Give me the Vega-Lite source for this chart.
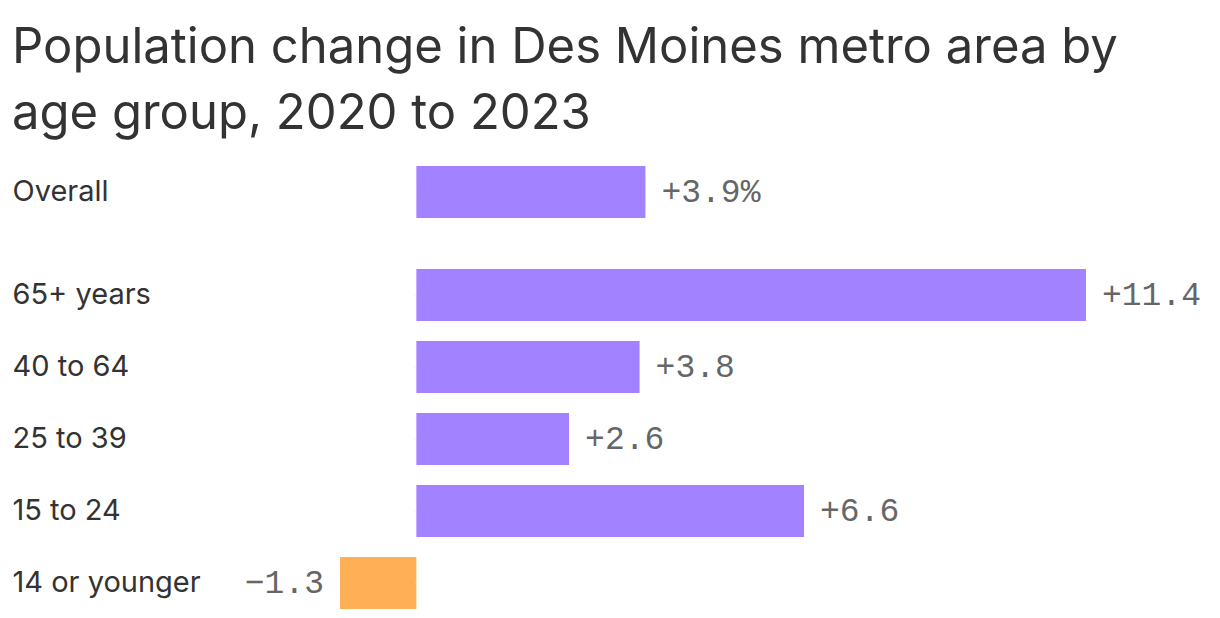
{
  "$schema": "https://vega.github.io/schema/vega-lite/v6.json",
  "background": "white",
  "padding": {"left": 12, "top": 24, "right": 10, "bottom": 5},
  "title": {
    "text": ["Population change in Des Moines metro area by", "age group, 2020 to 2023"],
    "anchor": "start",
    "frame": "bounds",
    "font": "Inter",
    "fontSize": 49,
    "fontWeight": "normal",
    "color": "#333333",
    "lineHeight": 66,
    "offset": 27
  },
  "datasets": {
    "overall": [
      {"group": "Overall", "value": 3.9, "label": "+3.9%"}
    ],
    "ages": [
      {"group": "65+ years", "value": 11.4, "label": "+11.4"},
      {"group": "40 to 64", "value": 3.8, "label": "+3.8"},
      {"group": "25 to 39", "value": 2.6, "label": "+2.6"},
      {"group": "15 to 24", "value": 6.6, "label": "+6.6"},
      {"group": "14 or younger", "value": -1.3, "label": "−1.3"}
    ]
  },
  "spacing": 50,
  "vconcat": [
    {
      "data": {"name": "overall"},
      "width": 746,
      "height": 52,
      "encoding": {
        "y": {"field": "group", "type": "nominal", "sort": null,
          "scale": {"paddingInner": 0, "paddingOuter": 0},
          "axis": {"title": null, "ticks": false, "domain": false, "labelAlign": "left", "labelPadding": 328, "labelLimit": 320, "labelFont": "Inter", "labelFontSize": 29, "labelColor": "#333333"}}
      },
      "layer": [
        {
          "mark": {"type": "bar", "color": "#a282ff"},
          "encoding": {
            "x": {"field": "value", "type": "quantitative", "scale": {"domain": [-1.3, 11.4], "nice": false}, "axis": null}
          }
        },
        {
          "mark": {"type": "text", "align": "left", "dx": 16, "font": "Liberation Mono", "fontSize": 33, "color": "#666666"},
          "encoding": {
            "x": {"field": "value", "type": "quantitative"},
            "text": {"field": "label"}
          }
        },
        {
          "mark": {"type": "rule", "color": "#dddddd", "strokeWidth": 1, "xOffset": -1},
          "encoding": {"x": {"datum": 0, "type": "quantitative"}}
        }
      ]
    },
    {
      "data": {"name": "ages"},
      "width": 746,
      "height": 340,
      "encoding": {
        "y": {"field": "group", "type": "nominal", "sort": null,
          "scale": {"paddingInner": 0.2778, "paddingOuter": 0},
          "axis": {"title": null, "ticks": false, "domain": false, "labelAlign": "left", "labelPadding": 328, "labelLimit": 320, "labelFont": "Inter", "labelFontSize": 29, "labelColor": "#333333"}}
      },
      "layer": [
        {
          "mark": {"type": "bar"},
          "encoding": {
            "x": {"field": "value", "type": "quantitative", "scale": {"domain": [-1.3, 11.4], "nice": false}, "axis": null},
            "color": {"condition": {"test": "datum.value < 0", "value": "#ffaf55"}, "value": "#a282ff"}
          }
        },
        {
          "transform": [{"filter": "datum.value >= 0"}],
          "mark": {"type": "text", "align": "left", "dx": 16, "font": "Liberation Mono", "fontSize": 33, "color": "#666666"},
          "encoding": {
            "x": {"field": "value", "type": "quantitative"},
            "text": {"field": "label"}
          }
        },
        {
          "transform": [{"filter": "datum.value < 0"}],
          "mark": {"type": "text", "align": "right", "dx": -16, "font": "Liberation Mono", "fontSize": 33, "color": "#666666"},
          "encoding": {
            "x": {"field": "value", "type": "quantitative"},
            "text": {"field": "label"}
          }
        },
        {
          "mark": {"type": "rule", "color": "#dddddd", "strokeWidth": 1, "xOffset": -1},
          "encoding": {"x": {"datum": 0, "type": "quantitative"}}
        }
      ]
    }
  ],
  "config": {
    "view": {"stroke": null},
    "axis": {"grid": false}
  }
}
